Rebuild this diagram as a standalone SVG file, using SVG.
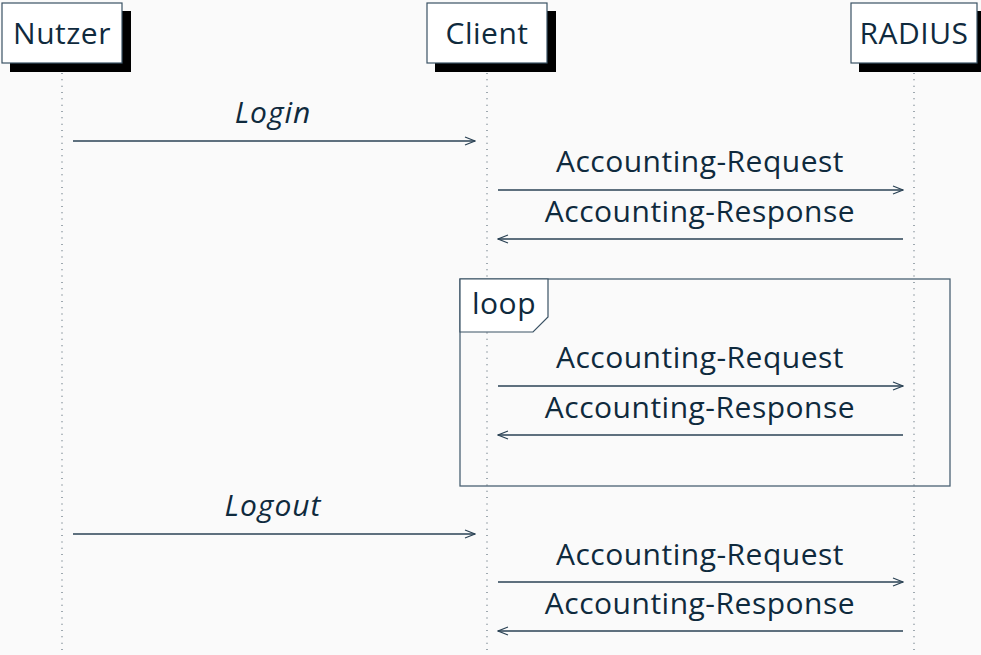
<svg xmlns="http://www.w3.org/2000/svg" width="981" height="655" viewBox="0 0 981 655">
  <defs>
    <style>
      .bg { fill: #fafafa; }
      .txt { font-family: "Open Sans", "Noto Sans", sans-serif; font-size: 30px; letter-spacing: 0.5px; fill: #0f2a3d; text-anchor: middle; }
      .it { font-style: italic; letter-spacing: 1px; }
      .box { fill: #ffffff; stroke: #3a5264; stroke-width: 1.2; }
      .shadow { fill: #000000; }
      .life { stroke: #6e7d88; stroke-width: 1.3; stroke-dasharray: 1 5.33; fill: none; }
      .msg { stroke: #2a4254; stroke-width: 1.3; fill: none; }
      .frame { fill: none; stroke: #4a6273; stroke-width: 1.3; }
      .tab { fill: #ffffff; stroke: #3a5264; stroke-width: 1.2; }
    </style>
    <marker id="open" viewBox="0 0 12 10" refX="11" refY="5" markerWidth="12" markerHeight="10" markerUnits="userSpaceOnUse" orient="auto-start-reverse">
      <path d="M1,1 L11,5 L1,9" fill="none" stroke="#2a4254" stroke-width="1.2"/>
    </marker>
  </defs>

  <rect class="bg" x="0" y="0" width="981" height="655"/>

  <!-- lifelines -->
  <g id="lifelines">
    <line class="life" x1="62" y1="73" x2="62" y2="655"/>
    <line class="life" x1="487" y1="73" x2="487" y2="655"/>
    <line class="life" x1="914" y1="73" x2="914" y2="655"/>
  </g>

  <!-- participants -->
  <g id="nutzer">
    <rect class="shadow" x="10" y="11" width="121" height="61"/>
    <rect class="box" x="2" y="3" width="120" height="60"/>
    <text class="txt" x="62" y="44">Nutzer</text>
  </g>
  <g id="client">
    <rect class="shadow" x="435" y="11" width="121" height="61"/>
    <rect class="box" x="427" y="3" width="120" height="60"/>
    <text class="txt" x="487" y="44">Client</text>
  </g>
  <g id="radius">
    <rect class="shadow" x="859" y="11" width="126" height="61"/>
    <rect class="box" x="851" y="3" width="126" height="60"/>
    <text class="txt" x="914" y="44">RADIUS</text>
  </g>

  <!-- loop fragment -->
  <g id="loop">
    <rect class="frame" x="460" y="279" width="490" height="207"/>
    <path class="tab" d="M460,279 L548,279 L548,317 L533,332 L460,332 Z"/>
    <text class="txt" x="504" y="314">loop</text>
  </g>

  <!-- messages -->
  <g id="connectors">
    <line class="msg" x1="73" y1="141" x2="475" y2="141" marker-end="url(#open)"/>
    <line class="msg" x1="498" y1="190" x2="903" y2="190" marker-end="url(#open)"/>
    <line class="msg" x1="903" y1="239" x2="498" y2="239" marker-end="url(#open)"/>
    <line class="msg" x1="498" y1="386" x2="903" y2="386" marker-end="url(#open)"/>
    <line class="msg" x1="903" y1="435" x2="498" y2="435" marker-end="url(#open)"/>
    <line class="msg" x1="73" y1="534" x2="475" y2="534" marker-end="url(#open)"/>
    <line class="msg" x1="498" y1="582" x2="903" y2="582" marker-end="url(#open)"/>
    <line class="msg" x1="903" y1="631" x2="498" y2="631" marker-end="url(#open)"/>
  </g>

  <!-- message labels -->
  <g id="labels">
    <text class="txt it" x="273" y="123">Login</text>
    <text class="txt" x="700" y="172">Accounting-Request</text>
    <text class="txt" x="700" y="222">Accounting-Response</text>
    <text class="txt" x="700" y="368">Accounting-Request</text>
    <text class="txt" x="700" y="418">Accounting-Response</text>
    <text class="txt it" x="273" y="516">Logout</text>
    <text class="txt" x="700" y="565">Accounting-Request</text>
    <text class="txt" x="700" y="614">Accounting-Response</text>
  </g>
</svg>
